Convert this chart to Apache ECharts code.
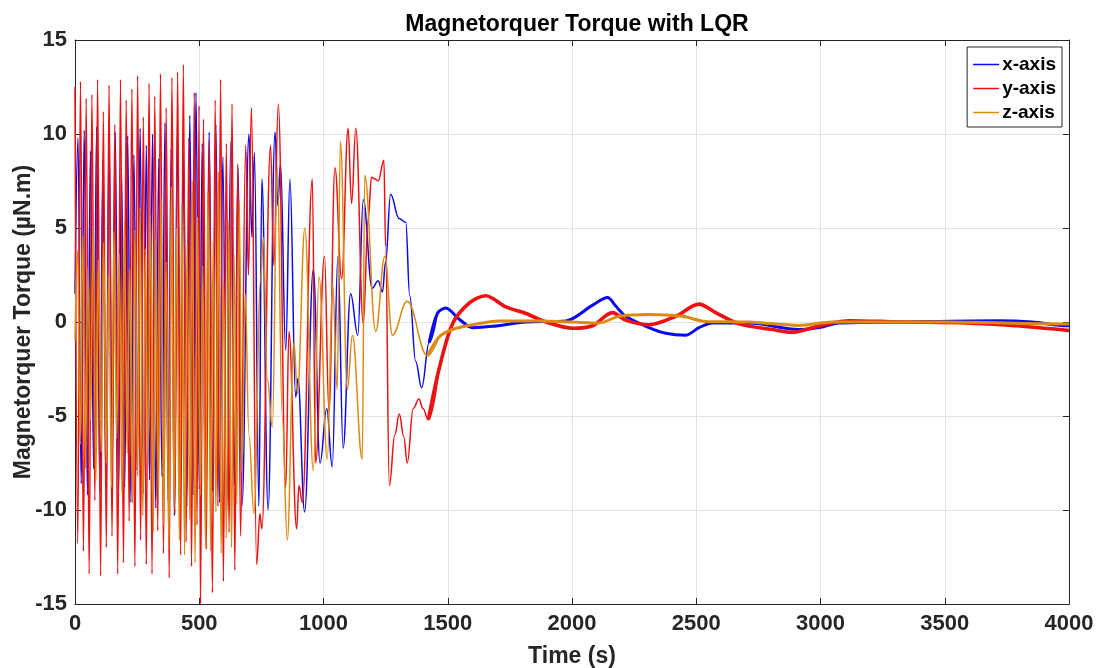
<!DOCTYPE html>
<html>
<head>
<meta charset="utf-8">
<script src="https://cdn.jsdelivr.net/npm/echarts@6/dist/echarts.min.js"></script>
<style>html,body{margin:0;padding:0;background:#fff}#c{width:1102px;height:668px}</style>
</head>
<body>
<div id="c"></div>
<script>
// ---- Data (times in s, torque in µN.m) ----
const seriesNames = ['x-axis', 'y-axis', 'z-axis'];

const xAxisTime = [0,12,25,37,50,62,75,87,100,112,125,137,150,162,175,187,200,212,225,237,250,262,275,287,300,312,325,337,350,362,375,387,400,412,425,437,450,462,475,487,500,512,525,540,553,567,581,595,610,627,642,656,672,700,712,722,740,752,777,805,816,827,848,865,888,897,924,959,986,1013,1035,1058,1079,1109,1138,1160,1196,1220,1237,1250,1270,1304,1331,1347,1371,1395,1425,1458,1492,1546,1600,1680,1815,1976,2083,2143,2176,2216,2310,2377,2458,2511,2565,2712,2913,2994,3074,3315,3718,3852,3992,4000];
const xAxisTorque = [1.5,9.8,-8.6,10.2,-9.2,9.1,-7.8,10.4,-9.0,8.6,-8.9,9.7,-7.4,10.1,-9.3,8.2,-8.8,9.9,-9.6,8.9,-7.9,10.3,-9.1,9.4,-8.4,10.0,-9.9,8.7,-8.2,10.6,-9.5,9.2,-10.3,10.4,-8.6,9.0,-9.8,11.0,-9.2,12.2,-8.9,9.5,-10.1,10.1,-9.0,10.5,-9.6,8.8,-10.4,9.6,-8.7,8.2,-9.8,10.0,4.5,9.0,-9.8,7.6,-10.0,10.1,6.2,8.4,-1.5,7.6,-4.0,-3.0,-10.1,2.8,-7.5,-4.6,-7.7,3.5,-6.7,1.5,-0.7,6.5,1.8,2.2,1.6,3.2,6.8,5.5,5.3,1.4,-2.1,-3.5,-1.1,0.45,0.74,0.15,-0.3,-0.23,0.0,0.06,0.9,1.3,0.85,0.3,-0.3,-0.6,-0.7,-0.3,-0.05,-0.05,-0.4,-0.3,-0.05,0.0,0.07,0.0,-0.2,-0.2];

const yAxisTime = [0,11,22,34,45,57,68,80,91,103,114,126,137,149,160,172,183,195,206,218,229,241,252,264,275,287,298,310,321,333,344,356,367,379,390,402,413,425,436,447,458,469,480,491,499,505,517,528,540,553,564,575,586,597,609,620,632,643,655,666,687,698,710,731,744,752,787,800,818,848,861,892,901,915,955,968,1004,1022,1046,1073,1099,1113,1130,1160,1180,1193,1207,1220,1243,1250,1265,1287,1305,1323,1337,1361,1384,1400,1422,1465,1519,1586,1653,1734,1815,1895,2003,2083,2137,2163,2216,2310,2417,2511,2578,2672,2806,2886,2967,3047,3114,3315,3583,3785,4000];
const yAxisTorque = [12.5,-11.8,12.8,-12.2,11.9,-13.4,12.1,-9.5,12.9,-13.5,11.2,-12.0,12.6,-11.4,10.5,-13.4,12.9,-12.8,11.8,-10.6,12.4,-13.0,13.1,-11.6,10.9,-12.9,12.7,-13.4,12.0,-11.1,13.2,-12.3,11.4,-13.6,13.0,-10.2,13.3,-12.4,13.7,-11.7,9.8,-13.0,12.2,-10.8,11.5,-15.0,10.8,-12.1,9.6,-14.4,11.8,-9.8,12.9,-13.8,9.5,-11.2,11.6,-13.2,8.4,-11.4,9.4,2.5,11.4,-12.9,-10.2,-11.0,9.4,3.0,11.6,-8.8,-0.5,-11.0,-8.7,-9.6,7.6,-7.5,3.5,-4.8,8.2,2.3,10.3,6.3,10.3,-0.1,5.5,7.7,7.6,7.5,8.6,4.0,-8.7,-6.0,-4.9,-6.1,-7.5,-4.6,-4.1,-4.6,-5.2,-2.5,-0.1,1.0,1.4,0.8,0.45,0.0,-0.33,-0.2,0.35,0.5,0.1,-0.15,0.3,0.95,0.5,-0.1,-0.4,-0.55,-0.3,-0.05,0.07,0.0,-0.05,-0.2,-0.45];

const zAxisTime = [0,10,21,31,42,52,63,73,84,94,105,115,126,136,147,157,168,178,189,199,210,220,231,241,252,262,273,283,294,304,315,325,336,346,357,367,378,388,399,409,420,430,441,451,462,472,483,493,504,514,525,535,546,556,567,577,588,598,609,619,630,640,651,661,672,685,700,720,747,758,774,794,814,834,854,881,895,925,959,982,1015,1037,1055,1068,1096,1116,1156,1166,1210,1247,1277,1337,1418,1465,1519,1600,1707,1868,2003,2109,2189,2310,2444,2538,2712,2913,3047,3500,3992,4000];
const zAxisTorque = [-1.0,3.8,-6.5,4.6,-7.8,2.9,-5.2,5.1,-8.4,3.3,-6.9,4.2,-7.5,2.5,-8.8,4.8,-6.2,3.6,-9.1,5.4,-7.0,2.8,-9.6,4.9,-8.2,6.1,-10.3,3.9,-7.6,5.7,-11.2,4.4,-9.4,6.6,-10.8,3.2,-12.1,7.2,-9.9,5.0,-11.6,6.3,-12.4,4.1,-10.5,7.5,-12.8,5.6,-9.2,3.0,-11.9,6.9,-12.2,4.3,-10.1,8.0,-12.3,2.1,-11.5,5.4,-12.0,3.6,-9.7,6.4,-8.0,1.5,-6.0,-10.2,2.2,4.5,-3.0,-5.6,8.2,-5.0,-11.6,-1.1,-3.8,5.0,-7.9,2.4,-7.3,2.0,-3.6,9.6,-3.6,-0.7,-7.3,7.8,-0.5,3.5,-0.7,1.1,-1.8,-0.8,-0.4,-0.15,0.05,0.05,0.0,-0.05,0.3,0.4,0.3,0.03,0.0,-0.18,0.0,0.0,-0.1,-0.1];

const xTickMin = 0, xTickMax = 4000, xTickStep = 500;
const yTickMin = -15, yTickMax = 15, yTickStep = 5;

// ---- Styling ----
const FONT = '"Liberation Sans", Arial, Helvetica, sans-serif';
const colors = ['#0a0af0', '#ee1111', '#dc8a12'];
const tailWidths = [3, 3.6, 3];
const SPLIT = 1440;

function pairs(t, v) { return t.map((tt, i) => [tt, v[i]]); }
function early(p) { const out = []; for (let i = 0; i < p.length; i++) { out.push(p[i]); if (p[i][0] > SPLIT) break; } return out; }
function tail(p) { let k = 0; for (let i = 0; i < p.length; i++) if (p[i][0] <= SPLIT) k = i; return p.slice(k); }

const all = [pairs(xAxisTime, xAxisTorque), pairs(yAxisTime, yAxisTorque), pairs(zAxisTime, zAxisTorque)];

const series = [];
all.forEach((p, i) => series.push({
  name: seriesNames[i], type: 'line', data: early(p), showSymbol: false, symbol: 'none',
  smooth: 0.4, smoothMonotone: 'x', lineStyle: { color: colors[i], width: 1.5 }, itemStyle: { color: colors[i] },
  z: 2 + i, animation: false
}));
all.forEach((p, i) => series.push({
  name: seriesNames[i], type: 'line', data: tail(p), showSymbol: false, symbol: 'none',
  smooth: 0.3, lineStyle: { color: colors[i], width: tailWidths[i] }, itemStyle: { color: colors[i] },
  z: 5 + i, animation: false
}));

const axisCol = '#262626';
const tickLab = { fontSize: 22, fontWeight: 'bold', color: '#262626', fontFamily: FONT, formatter: v => String(v) };

const chart = echarts.init(document.getElementById('c'), null, { renderer: 'canvas' });
chart.setOption({
  animation: false,
  backgroundColor: '#ffffff',
  title: {
    text: 'Magnetorquer Torque with LQR', left: 572, top: 8, textAlign: 'center',
    textStyle: { fontSize: 23, fontWeight: 'bold', color: '#000', fontFamily: FONT }
  },
  legend: {
    data: seriesNames.map(n => ({ name: n, icon: 'rect' })),
    orient: 'vertical', right: 40, top: 47,
    backgroundColor: '#fff', borderColor: '#262626', borderWidth: 1,
    padding: [8, 6, 5, 6], itemWidth: 26, itemHeight: 1.5, itemGap: 5,
    textStyle: { fontSize: 19, fontWeight: 'bold', color: '#000', fontFamily: FONT, padding: [0, 0, 0, -2] }
  },
  grid: { left: 75, right: 33, top: 40, bottom: 64, containLabel: false, outerBoundsMode: 'none' },
  xAxis: [{
    type: 'value', min: xTickMin, max: xTickMax, interval: xTickStep,
    name: 'Time (s)', nameLocation: 'middle', nameGap: 41, nameMoveOverlap: false,
    nameTextStyle: { fontSize: 23, fontWeight: 'bold', color: '#262626', fontFamily: FONT },
    axisLine: { show: true, onZero: false, lineStyle: { color: axisCol, width: 1 } },
    axisTick: { show: true, inside: true, length: 6, lineStyle: { color: axisCol } },
    axisLabel: Object.assign({ margin: 9 }, tickLab),
    splitLine: { show: true, lineStyle: { color: '#e3e3e3', width: 1 } }
  }, {
    type: 'value', min: xTickMin, max: xTickMax, interval: xTickStep, position: 'top',
    axisLine: { show: true, onZero: false, lineStyle: { color: axisCol, width: 1 } },
    axisTick: { show: true, inside: true, length: 6, lineStyle: { color: axisCol } },
    axisLabel: { show: false }, splitLine: { show: false }
  }],
  yAxis: [{
    type: 'value', min: yTickMin, max: yTickMax, interval: yTickStep,
    name: 'Magnetorquer Torque (µN.m)', nameLocation: 'middle', nameGap: 40, nameRotate: 90, nameMoveOverlap: false,
    nameTextStyle: { fontSize: 23, fontWeight: 'bold', color: '#262626', fontFamily: FONT },
    axisLine: { show: true, onZero: false, lineStyle: { color: axisCol, width: 1 } },
    axisTick: { show: true, inside: true, length: 6, lineStyle: { color: axisCol } },
    axisLabel: Object.assign({ margin: 8 }, tickLab),
    splitLine: { show: true, lineStyle: { color: '#e3e3e3', width: 1 } }
  }, {
    type: 'value', min: yTickMin, max: yTickMax, interval: yTickStep, position: 'right',
    axisLine: { show: true, onZero: false, lineStyle: { color: axisCol, width: 1 } },
    axisTick: { show: true, inside: true, length: 6, lineStyle: { color: axisCol } },
    axisLabel: { show: false }, splitLine: { show: false }
  }],
  series: series
});
</script>
</body>
</html>
